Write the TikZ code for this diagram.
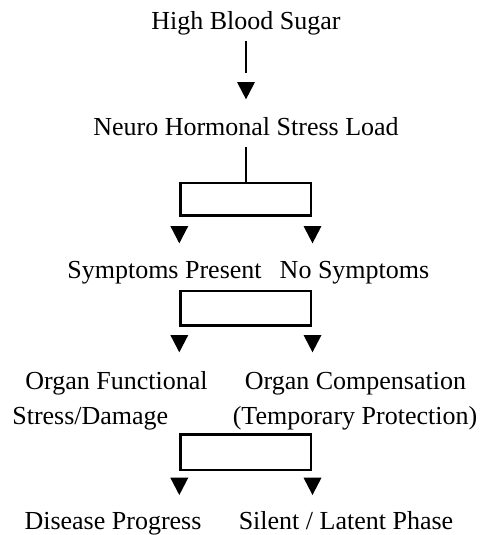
\documentclass[tikz,border=0pt]{standalone}
\usepackage{fontspec}
\setmainfont{Liberation Serif}
\begin{document}
\begin{tikzpicture}[x=1pt,y=-1pt,
  lbl/.style={font=\fontsize{26}{32}\selectfont, inner sep=0pt, anchor=base},
  bar/.style={line width=2pt},
  boxn/.style={draw, line width=2.5pt, minimum width=130.5pt, inner sep=0pt},
  tri/.style={fill=black}]
\useasboundingbox (0,0) rectangle (486,535);
% texts
\node[lbl] (hbs) at (246,29.3) {High Blood Sugar};
\node[lbl] (nhs) at (246,135.5) {Neuro Hormonal Stress Load};
\node[lbl] (sp) at (164.5,278.3) {Symptoms Present};
\node[lbl] (ns) at (354.5,278.3) {No Symptoms};
\node[lbl] (of) at (116.5,389) {Organ Functional};
\node[lbl] (oc) at (355.5,389) {Organ Compensation};
\node[lbl] (sd) at (90.3,424) {Stress/Damage};
\node[lbl] (tp) at (355,424) {(Temporary Protection)};
\node[lbl] (dp) at (113,529.3) {Disease Progress};
\node[lbl] (sl) at (346,529.3) {Silent / Latent Phase};
% boxes
\node[boxn, minimum height=32.5pt] (b1) at (245.9,199.2) {};
\node[boxn, minimum height=34.2pt] (b2) at (245.9,308.3) {};
\node[boxn, minimum height=35.5pt] (b3) at (245.9,452) {};
% bars
\coordinate (a1) at (245.9,41);
\coordinate (a2) at (245.9,73);
\coordinate (a3) at (245.9,147);
\draw[bar] (a1) -- (a2);
\draw[bar] (a3) -- (a3 |- b1.north);
% triangles (tops)
\coordinate (t0) at (246,82);
\coordinate (t1) at (179.3,226);
\coordinate (t2) at (312.5,226);
\coordinate (t3) at (179.3,335);
\coordinate (t4) at (312.5,335);
\coordinate (t5) at (179.3,477.7);
\coordinate (t6) at (312.5,477.7);
\foreach \t in {t0,t1,t2,t3,t4,t5,t6}{
  \fill[tri] (\t) ++(-9,0) -- ++(18,0) -- ++(-9,17.3) -- cycle;
}
\end{tikzpicture}
\end{document}
